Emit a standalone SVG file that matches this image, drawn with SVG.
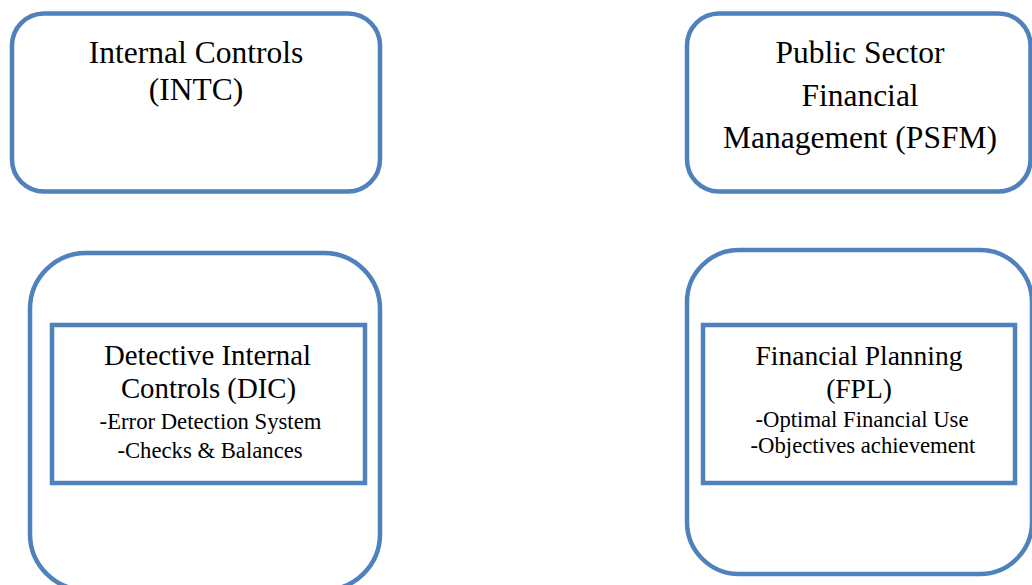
<svg xmlns="http://www.w3.org/2000/svg" width="1032" height="585" viewBox="0 0 1032 585">
  <style>
    .frame { fill: #ffffff; stroke: #4f81bd; stroke-width: 4.5; }
    .inner { fill: #ffffff; stroke: #4f81bd; stroke-width: 4.5; }
    .t { font-family: "Liberation Serif", "Times New Roman", serif; fill: #000000; text-anchor: middle; }
    .big { font-size: 31.5px; }
    .mid { font-size: 28.8px; }
    .mid2 { font-size: 27.5px; }
    .small { font-size: 22.7px; }
  </style>
  <rect width="1032" height="585" fill="#ffffff"/>

  <!-- Internal Controls -->
  <g id="intc">
    <rect class="frame" x="12" y="13.5" width="368" height="178" rx="32" ry="32"/>
    <text class="t big" x="196" y="63">Internal Controls</text>
    <text class="t big" x="196" y="100">(INTC)</text>
  </g>

  <!-- Public Sector Financial Management -->
  <g id="psfm">
    <rect class="frame" x="687" y="13.5" width="343.5" height="178" rx="32" ry="32"/>
    <text class="t big" x="860" y="63">Public Sector</text>
    <text class="t big" x="860" y="106">Financial</text>
    <text class="t big" x="860" y="148">Management (PSFM)</text>
  </g>

  <!-- Detective Internal Controls -->
  <g id="dic">
    <rect class="frame" x="30" y="253" width="350" height="337" rx="56" ry="56"/>
    <rect class="inner" x="52" y="325" width="313" height="158"/>
    <text class="t mid" x="207.5" y="365">Detective Internal</text>
    <text class="t mid" x="208.5" y="398">Controls (DIC)</text>
    <text class="t small" x="210.5" y="429">-Error Detection System</text>
    <text class="t small" x="210" y="458">-Checks &amp; Balances</text>
  </g>

  <!-- Financial Planning -->
  <g id="fpl">
    <rect class="frame" x="687" y="250" width="345" height="324" rx="52" ry="52"/>
    <rect class="inner" x="703" y="325" width="312" height="158"/>
    <text class="t mid2" x="859" y="365">Financial Planning</text>
    <text class="t mid2" x="859" y="398">(FPL)</text>
    <text class="t small" x="862" y="427">-Optimal Financial Use</text>
    <text class="t small" x="863" y="453">-Objectives achievement</text>
  </g>
</svg>
